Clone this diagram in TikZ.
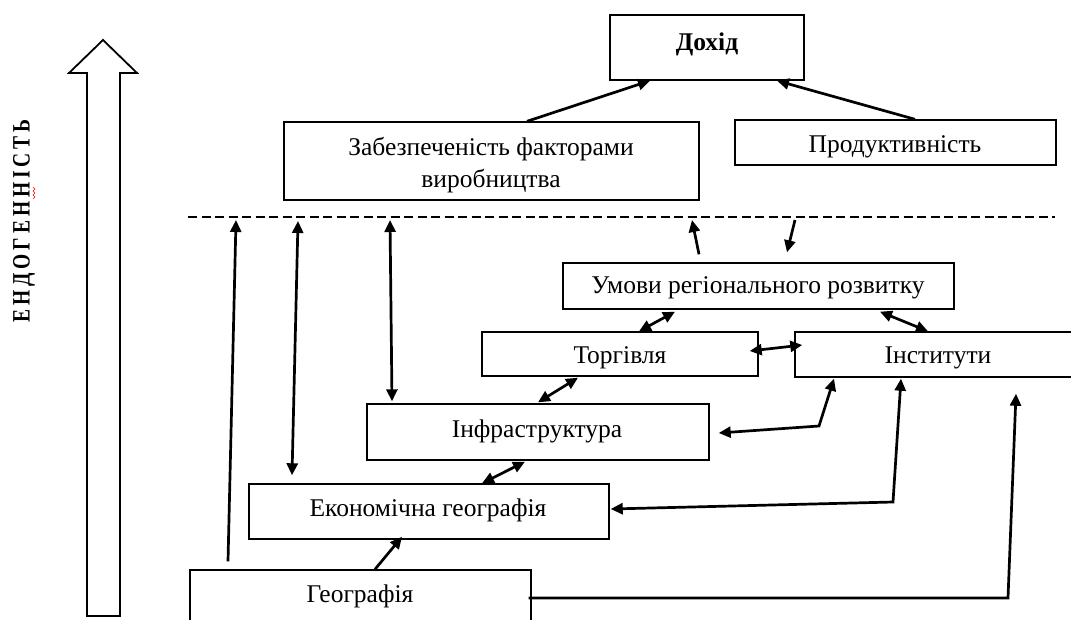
\documentclass[tikz,border=0pt]{standalone}
\usepackage{fontspec}
\setmainfont{Liberation Serif}
\usetikzlibrary{arrows.meta,calc}
\tikzset{
  box/.style={draw, line width=1.4pt, inner sep=0pt, minimum width=#1},
  txt/.style={anchor=base, inner sep=0pt, font=\fontsize{25.5}{30}\selectfont},
  arr/.style={line width=2.7pt, -{Triangle[length=12pt,width=11pt]}},
  darr/.style={line width=2.7pt, {Triangle[length=12pt,width=11pt]}-{Triangle[length=12pt,width=11pt]}},
  dline/.style={line width=2.8pt, dash pattern=on 9pt off 4.5pt}
}
\newcommand{\lsp}{\hspace{5pt}}
\begin{document}
\begin{tikzpicture}[x=1pt,y=-1pt]
\useasboundingbox (0,0) rectangle (1071,619);
\clip (0,0) rectangle (1071,619);
% boxes
\node[box=194pt, minimum height=65pt] (dohid) at (707,47.5) {};
\node[box=415pt, minimum height=78pt] (zab) at (491.5,161) {};
\node[box=321pt, minimum height=45pt] (prod) at (895.5,142.5) {};
\node[box=391pt, minimum height=46pt] (umovy) at (758.5,286) {};
\node[box=276pt, minimum height=44pt] (torg) at (620,354) {};
\node[box=286pt, minimum height=45pt] (inst) at (938,354.5) {};
\node[box=342pt, minimum height=56pt] (infra) at (538,432) {};
\node[box=360pt, minimum height=55pt] (ekon) at (429,511.5) {};
\node[box=341pt, minimum height=70pt] (geo) at (360.5,605) {};
% texts
\node[txt, font=\fontsize{25.5}{30}\selectfont\bfseries] (tdohid) at (707,50) {Дохід};
\node[txt] (tzab1) at (491,155) {Забезпеченість факторами};
\node[txt] (tzab2) at (491,187) {виробництва};
\node[txt] (tprod) at (895,152) {Продуктивність};
\node[txt] (tumovy) at (758,293) {Умови регіонального розвитку};
\node[txt] (ttorg) at (620,363) {Торгівля};
\node[txt] (tinst) at (938,363) {Інститути};
\node[txt] (tinfra) at (537,437) {Інфраструктура};
\node[txt] (tekon) at (428,516) {Економічна географія};
\node[txt] (tgeo) at (360,602) {Географія};
% dashed line and points on it
\coordinate (dl1) at (188,217);
\coordinate (dl2) at (1055,217);
\draw[dline] (dl1) -- (dl2);
\coordinate (d1) at (236,220);
\coordinate (d2) at (298,221);
\coordinate (d3) at (390,220);
\coordinate (d4) at (692,220);
\coordinate (d5) at (795,220);
% connectors
\draw[arr] ([xshift=35.5pt]zab.north) -- ([xshift=-57pt]dohid.south);
\draw[arr] ([xshift=19.5pt]prod.north) -- ([xshift=70pt]dohid.south);
\draw[arr] ([xshift=-132.5pt,yshift=8pt]geo.north) -- (d1);
\draw[darr] (d2) -- ([xshift=-137pt,yshift=8pt]ekon.north);
\draw[darr] (d3) -- ([xshift=-146pt,yshift=2pt]infra.north);
\draw[arr] ([xshift=-59.5pt,yshift=8pt]umovy.north) -- (d4);
\draw[arr] (d5) -- ([xshift=28.5pt,yshift=10pt]umovy.north);
\draw[darr] ([xshift=-83.5pt,yshift=-2pt]umovy.south) -- ([xshift=19pt]torg.north);
\draw[darr] ([xshift=121.5pt,yshift=-2pt]umovy.south) -- ([xshift=-10pt]inst.north);
\draw[darr] ([xshift=-9pt,yshift=3pt]torg.east) -- ([xshift=8pt,yshift=9.5pt]inst.west);
\draw[darr] ([xshift=-42pt,yshift=-1pt]torg.south) -- ([yshift=1pt]infra.north);
\draw[darr] ([xshift=-13pt,yshift=-1pt]infra.south) -- ([xshift=53pt]ekon.north);
\draw[arr] ([xshift=14.5pt]geo.north) -- ([xshift=-27pt,yshift=3pt]ekon.south);
\draw[darr] ([xshift=9pt,yshift=-1pt]infra.east) -- (819,426) -- ([xshift=-104pt,yshift=-1pt]inst.south);
\draw[darr] ([xshift=-37pt,yshift=-1pt]inst.south) -- (893,502) -- ([xshift=1pt,yshift=2.5pt]ekon.east);
\draw[arr] ([xshift=-3pt,yshift=7pt]geo.east) -- (1008,598) -- ([xshift=78pt,yshift=-16pt]inst.south);
% big outline arrow
\draw[line width=1.8pt, line join=miter] (87,616) -- (87,73) -- (69,73) -- (103,40) -- (137,73) -- (120,73) -- (120,616) -- cycle;
\node[rotate=90, inner sep=0pt, font=\fontsize{25}{30}\selectfont\bfseries] (endo) at (24,221) {\scalebox{0.78}[1]{Е\lsp Н\lsp Д\lsp О\lsp Г\lsp Е\lsp Н\lsp Н\lsp І\lsp С\lsp Т\lsp Ь}};
\draw[red, line width=0.6pt] (33,187) -- (35,189) -- (33,191) -- (35,193) -- (33,195) -- (35,197) -- (33,199);
\end{tikzpicture}
\end{document}
